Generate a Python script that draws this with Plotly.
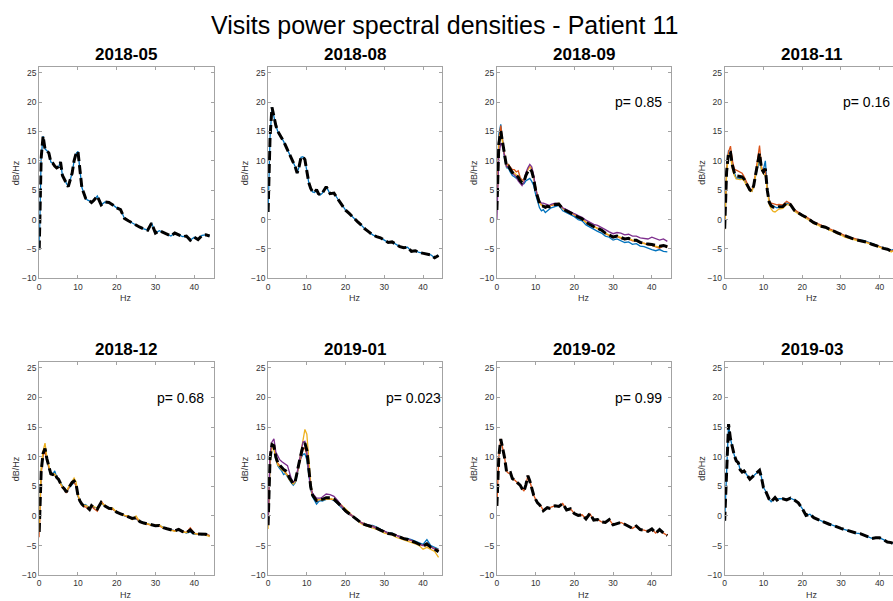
import numpy as np
import plotly.graph_objects as go

# ---------------- data ----------------
FREQ_HZ = [0, 0.5, 1, 1.5, 2, 2.5, 3, 3.5, 4, 4.5,
           5, 5.5, 6, 6.5, 7, 7.5, 8, 8.5, 9, 9.5,
           10, 10.5, 11, 11.5, 12, 12.5, 13, 13.5, 14,
           15, 16, 17, 18, 19, 20, 21, 22, 23, 24, 25, 26, 27, 28, 29,
           30, 31, 32, 33, 34, 35, 36, 37, 38, 39, 40, 41, 42, 43, 44]

VISITS = ["2018-05", "2018-08", "2018-09", "2018-11",
          "2018-12", "2019-01", "2019-02", "2019-03"]
P_VALUES = [None, None, "0.85", "0.16", "0.68", "0.023", "0.99", None]
X_TICKS = [0, 10, 20, 30, 40]
Y_TICKS = [-10, -5, 0, 5, 10, 15, 20, 25]

P1_BLUE = [-5.1, 10.5, 14.2, 12.0, 11.7, 11.3, 9.8, 9.6, 9.1, 8.8,
           9.0, 9.8, 7.5, 6.7, 6.2, 5.6, 6.8, 7.9, 10.0, 11.2,
           11.6, 9.0, 5.5, 4.5, 3.6, 3.3, 3.2, 2.9, 3.2,
           4.0, 2.5, 3.0, 2.9, 2.5, 2.0, 1.7, 0.2, -0.2, -0.6, -1.0, -1.3, -1.6, -1.8, -0.6,
           -2.3, -1.9, -2.2, -2.5, -2.8, -2.3, -2.6, -2.9, -2.8, -3.5, -3.0, -3.4, -2.7, -2.6, -2.8]

P2_BLUE = [1.3, 14.0, 19.1, 17.5, 16.0, 15.0, 14.5, 14.0, 13.3, 12.6,
           11.9, 11.2, 10.5, 9.8, 9.0, 7.9, 9.0, 10.6, 10.7, 10.2,
           8.5, 6.3, 5.3, 4.7, 4.6, 5.1, 4.4, 4.2, 4.5,
           5.6, 4.4, 4.5, 3.5, 2.6, 1.6, 1.0, 0.3, -0.3, -0.9, -1.6, -2.1, -2.6, -2.9, -3.1,
           -3.5, -3.9, -3.8, -4.2, -4.6, -4.8, -4.7, -5.4, -5.3, -5.6, -5.7, -5.8, -6.0, -6.5, -6.1]

P3_BLUE = [2.5, 14.5, 16.2, 13.0, 10.3, 8.8, 8.7, 8.0, 7.5, 7.3,
           7.0, 6.8, 6.3, 6.0, 6.1, 6.6, 6.8, 7.0, 6.5, 5.8,
           4.3, 3.0, 2.0, 1.5, 1.7, 1.2, 1.5, 1.8, 2.0,
           2.2, 2.4, 1.5, 1.2, 0.8, 0.5, 0.0, -0.2, -0.9, -1.3, -1.6, -2.0, -2.3, -2.8, -3.0,
           -3.5, -3.3, -3.6, -3.9, -3.8, -4.2, -4.1, -4.5, -4.6, -4.9, -5.1, -5.3, -5.1, -5.4, -5.5]
P3_ORANGE = [2.0, 13.5, 16.0, 13.3, 10.8, 9.2, 9.4, 8.9, 8.5, 8.5,
             8.1, 8.3, 7.2, 6.7, 6.8, 7.8, 8.6, 9.0, 8.6, 7.2,
             5.2, 3.9, 3.0, 2.5, 2.3, 2.2, 2.4, 2.2, 2.4,
             2.5, 2.6, 1.9, 1.6, 1.2, 0.8, 0.4, 0.2, -0.5, -0.8, -1.2, -1.5, -1.8, -2.4, -2.7,
             -3.0, -2.9, -3.1, -3.4, -3.3, -3.6, -3.6, -4.0, -4.0, -4.3, -4.4, -4.6, -4.9, -4.5, -4.7]
P3_YELLOW = [2.0, 12.5, 15.0, 13.0, 10.5, 9.0, 9.2, 8.7, 8.1, 7.9,
             7.6, 7.3, 6.8, 6.5, 6.6, 7.8, 8.5, 9.0, 8.7, 7.2,
             5.2, 3.8, 2.9, 2.4, 2.3, 2.2, 2.5, 2.3, 2.5,
             2.7, 2.8, 1.9, 1.6, 1.2, 0.9, 0.5, 0.1, -0.4, -0.9, -1.2, -1.5, -1.8, -2.3, -2.6,
             -3.0, -2.8, -3.1, -3.3, -3.2, -3.5, -3.6, -3.9, -4.1, -4.2, -4.4, -4.5, -4.7, -4.4, -4.6]
P3_PURPLE = [0.0, 11.0, 13.0, 12.5, 10.8, 9.0, 9.0, 8.6, 7.9, 7.5,
             7.3, 6.6, 6.2, 5.8, 6.4, 8.0, 8.8, 9.4, 9.0, 7.5,
             5.3, 3.9, 3.2, 2.8, 2.8, 2.7, 2.6, 2.4, 2.6,
             2.8, 2.7, 2.0, 1.7, 1.3, 1.0, 0.7, 0.4, -0.1, -0.5, -0.8, -1.0, -1.3, -1.7, -2.1,
             -2.4, -2.2, -2.3, -2.6, -2.5, -2.8, -2.8, -3.1, -3.2, -3.3, -3.0, -3.2, -3.5, -3.3, -3.7]

P4_BLUE = [-1.5, 8.0, 11.8, 11.0, 9.0, 7.8, 7.0, 7.1, 7.0, 7.0,
           6.8, 6.2, 5.5, 5.0, 4.8, 5.8, 7.5, 9.0, 10.3, 8.5,
           8.5, 10.0, 5.5, 3.0, 2.5, 2.3, 2.2, 2.0, 2.1,
           2.2, 2.8, 2.5, 1.6, 1.1, 0.8, 0.4, -0.1, -0.5, -0.8, -1.1, -1.3, -1.7, -1.9, -2.2,
           -2.5, -2.8, -3.1, -3.2, -3.4, -3.5, -3.6, -3.8, -4.1, -4.3, -4.6, -4.8, -5.0, -5.2, -5.0]
P4_ORANGE = [-1.5, 8.5, 11.5, 12.5, 10.0, 8.6, 8.4, 8.2, 8.0, 7.9,
             7.3, 6.5, 5.8, 5.2, 4.9, 6.0, 8.0, 10.0, 12.6, 9.0,
             8.0, 8.5, 5.0, 3.2, 2.8, 2.7, 2.6, 2.5, 2.6,
             2.5, 3.1, 2.7, 1.7, 1.2, 0.8, 0.5, 0.0, -0.4, -0.7, -1.0, -1.2, -1.5, -1.8, -2.1,
             -2.4, -2.7, -3.0, -3.1, -3.3, -3.5, -3.6, -3.9, -4.2, -4.3, -4.6, -4.9, -5.0, -5.4, -5.1]
P4_YELLOW = [-1.7, 8.0, 11.0, 10.8, 8.6, 7.5, 6.9, 6.8, 6.8, 6.9,
             6.6, 6.0, 5.4, 4.9, 4.8, 5.6, 7.6, 9.5, 11.0, 8.5,
             7.8, 7.5, 4.5, 2.6, 1.8, 1.4, 1.3, 1.6, 1.8,
             1.9, 2.6, 2.4, 1.4, 1.0, 0.6, 0.3, -0.2, -0.7, -0.9, -1.3, -1.4, -1.8, -2.0, -2.4,
             -2.6, -3.0, -3.2, -3.4, -3.6, -3.7, -3.8, -4.0, -4.3, -4.5, -4.7, -5.0, -5.1, -5.5, -5.2]

P5_BLUE = [-2.0, 7.5, 10.5, 10.8, 9.6, 8.0, 7.1, 7.0, 7.6, 6.6,
           6.1, 5.6, 5.0, 4.6, 4.1, 4.6, 5.0, 5.4, 5.7, 5.2,
           3.3, 2.5, 2.0, 1.7, 1.9, 1.5, 1.2, 1.6, 1.4,
           1.4, 2.2, 1.6, 1.4, 1.2, 0.6, 0.4, 0.0, -0.1, -0.4, -0.5, -0.9, -1.1, -1.4, -1.5,
           -1.7, -1.6, -1.9, -2.2, -2.3, -2.5, -2.3, -2.6, -2.9, -2.7, -3.1, -3.0, -3.2, -3.0, -3.4]
P5_ORANGE = [-3.6, 7.0, 10.2, 11.0, 9.4, 8.2, 7.0, 7.1, 7.0, 6.4,
             6.2, 5.4, 4.8, 4.5, 3.9, 4.6, 5.1, 5.6, 5.6, 5.2,
             3.5, 2.5, 2.0, 1.6, 1.5, 1.3, 1.0, 1.8, 1.3,
             0.8, 2.5, 1.6, 1.2, 1.1, 0.7, 0.3, 0.1, -0.2, -0.3, -0.4, -1.0, -1.2, -1.3, -1.6,
             -1.6, -1.7, -2.0, -2.1, -2.4, -2.5, -2.2, -2.6, -2.8, -2.0, -2.9, -3.1, -3.0, -3.1, -3.3]
P5_YELLOW = [-2.5, 8.0, 11.0, 12.3, 9.8, 8.3, 7.2, 6.9, 7.1, 6.5,
             6.2, 5.5, 4.9, 4.6, 4.1, 4.8, 5.4, 6.0, 6.4, 5.8,
             3.6, 2.6, 2.0, 1.8, 1.8, 1.6, 1.1, 1.8, 1.6,
             1.3, 2.2, 1.8, 1.3, 1.3, 0.6, 0.4, 0.1, 0.0, -0.6, 0.0, -1.0, -1.3, -1.3, -1.6,
             -1.6, -1.5, -2.0, -2.2, -2.4, -2.6, -2.3, -2.7, -2.8, -2.4, -3.0, -3.0, -3.1, -3.2, -3.5]

P6_BLUE = [-1.5, 9.5, 12.0, 11.5, 9.6, 8.5, 8.0, 7.6, 7.0, 7.2,
           6.6, 6.0, 5.6, 5.2, 5.6, 7.0, 8.8, 9.8, 10.4, 10.5,
           9.5, 7.0, 4.5, 3.2, 2.7, 2.0, 2.4, 2.6, 2.5,
           2.8, 2.9, 2.6, 2.0, 1.3, 0.7, 0.2, -0.2, -0.5, -1.2, -1.3, -1.6, -1.6, -1.9, -2.3,
           -2.6, -2.8, -2.9, -3.3, -3.4, -3.8, -3.8, -4.0, -4.3, -4.6, -4.8, -4.0, -5.0, -5.3, -5.6]
P6_ORANGE = [-1.0, 10.0, 12.2, 11.6, 9.8, 8.9, 8.5, 8.0, 7.8, 7.4,
             6.9, 6.2, 5.8, 5.5, 5.9, 7.2, 8.9, 10.0, 11.2, 11.5,
             10.3, 7.6, 4.7, 3.4, 3.0, 2.6, 2.7, 2.8, 2.8,
             3.0, 2.9, 2.7, 2.1, 1.6, 0.7, 0.3, -0.1, -0.6, -1.1, -1.4, -1.6, -1.7, -2.0, -2.4,
             -2.7, -2.9, -3.0, -3.3, -3.5, -3.7, -3.9, -4.1, -4.4, -4.8, -5.0, -5.0, -5.3, -5.5, -5.7]
P6_YELLOW = [-2.2, 9.0, 11.5, 11.4, 9.6, 8.6, 8.3, 7.8, 7.6, 7.2,
             6.8, 6.1, 5.7, 5.4, 5.8, 7.1, 9.0, 11.0, 13.0, 14.6,
             13.8, 10.0, 5.5, 3.5, 3.0, 2.7, 2.8, 2.7, 2.7,
             2.8, 2.9, 2.8, 2.4, 1.8, 1.2, 0.5, 0.0, -0.6, -1.3, -1.6, -1.8, -2.0, -2.2, -2.5,
             -2.9, -3.1, -3.2, -3.6, -3.8, -4.0, -4.2, -4.5, -4.7, -5.0, -5.6, -5.3, -5.7, -6.0, -7.0]
P6_PURPLE = [-1.5, 10.5, 12.5, 13.0, 10.8, 10.0, 9.5, 9.2, 9.0, 8.8,
             8.5, 7.4, 6.3, 5.7, 6.0, 7.4, 9.2, 11.0, 12.5, 12.6,
             10.8, 7.5, 4.8, 3.8, 3.3, 3.0, 3.0, 3.0, 3.2,
             3.7, 3.6, 3.3, 2.6, 1.6, 0.8, 0.4, -0.1, -0.5, -1.0, -1.6, -1.5, -1.8, -2.1, -2.4,
             -2.5, -3.0, -3.1, -3.2, -3.6, -3.8, -4.0, -4.1, -4.5, -4.7, -5.0, -4.6, -5.2, -5.6, -5.8]

P7_ORANGE = [1.7, 10.0, 13.0, 11.5, 9.8, 7.5, 7.2, 7.3, 6.3, 6.1,
             5.8, 5.5, 5.2, 4.6, 4.2, 5.3, 6.8, 5.9, 4.7, 3.5,
             2.8, 2.2, 1.9, 1.5, 0.9, 1.2, 1.4, 1.3, 1.5,
             1.7, 1.6, 2.1, 1.0, 1.2, 0.4, 0.1, 0.2, -0.5, 0.4, -0.7, -0.6, -1.0, -1.1, -0.6,
             -1.5, -1.3, -1.1, -1.4, -1.8, -2.1, -1.7, -2.3, -2.4, -2.6, -2.2, -2.9, -2.3, -2.9, -3.3]

P8_BLUE = [-0.8, 9.0, 15.5, 13.0, 11.5, 10.2, 9.3, 9.0, 7.8, 7.4,
           7.6, 7.2, 6.8, 6.2, 6.5, 6.8, 7.0, 7.3, 7.7, 6.5,
           4.8, 4.3, 3.5, 2.8, 2.4, 2.8, 3.1, 2.7, 2.9,
           2.9, 2.7, 3.0, 2.7, 2.2, 1.3, 0.1, 0.3, -0.3, -0.6, -0.9, -1.2, -1.4, -1.6, -1.9,
           -2.1, -2.3, -2.5, -2.8, -2.9, -3.0, -3.3, -3.6, -3.8, -3.7, -3.7, -4.0, -4.4, -4.5, -4.8]

PANEL_SERIES = [
    [("blue", P1_BLUE)],
    [("blue", P2_BLUE)],
    [("blue", P3_BLUE), ("orange", P3_ORANGE), ("yellow", P3_YELLOW), ("purple", P3_PURPLE)],
    [("blue", P4_BLUE), ("orange", P4_ORANGE), ("yellow", P4_YELLOW)],
    [("blue", P5_BLUE), ("orange", P5_ORANGE), ("yellow", P5_YELLOW)],
    [("blue", P6_BLUE), ("orange", P6_ORANGE), ("yellow", P6_YELLOW), ("purple", P6_PURPLE)],
    [("orange", P7_ORANGE)],
    [("blue", P8_BLUE)],
]

# ---------------- style / layout ----------------
COLORS = {"blue": "#0072BD", "orange": "#D95319", "yellow": "#EDB120", "purple": "#7E2F8E"}
FONT = "Liberation Sans, Arial, Helvetica, sans-serif"
W, H = 893, 601
COL_LEFT = [37.3, 266.7, 496.0, 724.3]
AX_W = 174.7
ROW_TB = [(67.3, 280.7), (365.0, 580.0)]
X_MAX = 45
Y_RANGE = [-10, 26]
AXIS_LINE = "#a3a3a3"
TICK_FONT = dict(family=FONT, size=8.5, color="#333333")

for series in PANEL_SERIES:
    for _, vals in series:
        assert len(vals) == len(FREQ_HZ), len(vals)

fig = go.Figure()
layout = {}
annotations = []

for i in range(8):
    r, c = divmod(i, 4)
    n = i + 1
    xn = "x" if n == 1 else f"x{n}"
    yn = "y" if n == 1 else f"y{n}"
    series = PANEL_SERIES[i]
    for cname, vals in series:
        fig.add_trace(go.Scatter(x=FREQ_HZ, y=vals, mode="lines",
                                 line=dict(color=COLORS[cname], width=1.3),
                                 xaxis=xn, yaxis=yn, hoverinfo="skip", showlegend=False))
    mean_vals = np.mean(np.array([v for _, v in series], dtype=float), axis=0)
    fig.add_trace(go.Scatter(x=FREQ_HZ, y=mean_vals, mode="lines",
                             line=dict(color="black", width=3, dash="9px,4px"),
                             xaxis=xn, yaxis=yn, hoverinfo="skip", showlegend=False))

    left = COL_LEFT[c]
    right = min(left + AX_W, W)
    xr = X_MAX * (right - left) / AX_W
    top, bot = ROW_TB[r]
    clipped = right >= W
    layout["xaxis" if n == 1 else f"xaxis{n}"] = dict(
        domain=[left / W, right / W], range=[0, xr], anchor=yn,
        tickvals=X_TICKS, ticks="inside", ticklen=3, tickcolor=AXIS_LINE,
        showline=True, linecolor=AXIS_LINE, linewidth=1, mirror="ticks",
        showgrid=False, zeroline=False, tickfont=TICK_FONT, fixedrange=True)
    layout["yaxis" if n == 1 else f"yaxis{n}"] = dict(
        domain=[1 - bot / H, 1 - top / H], range=Y_RANGE, anchor=xn,
        tickvals=Y_TICKS, ticks="inside", ticklen=3, tickcolor=AXIS_LINE,
        showline=True, linecolor=AXIS_LINE, linewidth=1,
        mirror=False if clipped else "ticks",
        showgrid=False, zeroline=False, tickfont=TICK_FONT, fixedrange=True)

    cx = (left + left + AX_W) / 2
    # subplot title
    annotations.append(dict(text=f"<b>{VISITS[i]}</b>", xref="paper", yref="paper",
                            x=cx / W, y=1 - (top - 12.5) / H, xanchor="center", yanchor="middle",
                            showarrow=False, font=dict(family=FONT, size=17, color="black")))
    # axis labels
    annotations.append(dict(text="Hz", xref="paper", yref="paper",
                            x=cx / W, y=1 - (bot + 19.5) / H, xanchor="center", yanchor="middle",
                            showarrow=False, font=dict(family=FONT, size=9, color="#333333")))
    annotations.append(dict(text="dB/Hz", xref="paper", yref="paper", textangle=-90,
                            x=(left - 23.5) / W, y=1 - ((top + bot) / 2) / H,
                            xanchor="center", yanchor="middle",
                            showarrow=False, font=dict(family=FONT, size=9, color="#333333")))
    if P_VALUES[i] is not None:
        annotations.append(dict(text=f"p= {P_VALUES[i]}", xref=xn, yref=yn, x=30, y=20,
                                xanchor="left", yanchor="middle", showarrow=False,
                                font=dict(family=FONT, size=14, color="black")))

annotations.append(dict(text="Visits power spectral densities - Patient 11",
                        xref="paper", yref="paper", x=443 / W, y=1 - 25 / H,
                        xanchor="center", yanchor="middle", showarrow=False,
                        font=dict(family=FONT, size=25, color="black")))

fig.update_layout(width=W, height=H, margin=dict(l=0, r=0, t=0, b=0),
                  paper_bgcolor="white", plot_bgcolor="white",
                  showlegend=False, annotations=annotations, **layout)

fig.write_html("out.html", config={"displayModeBar": False, "staticPlot": True})
